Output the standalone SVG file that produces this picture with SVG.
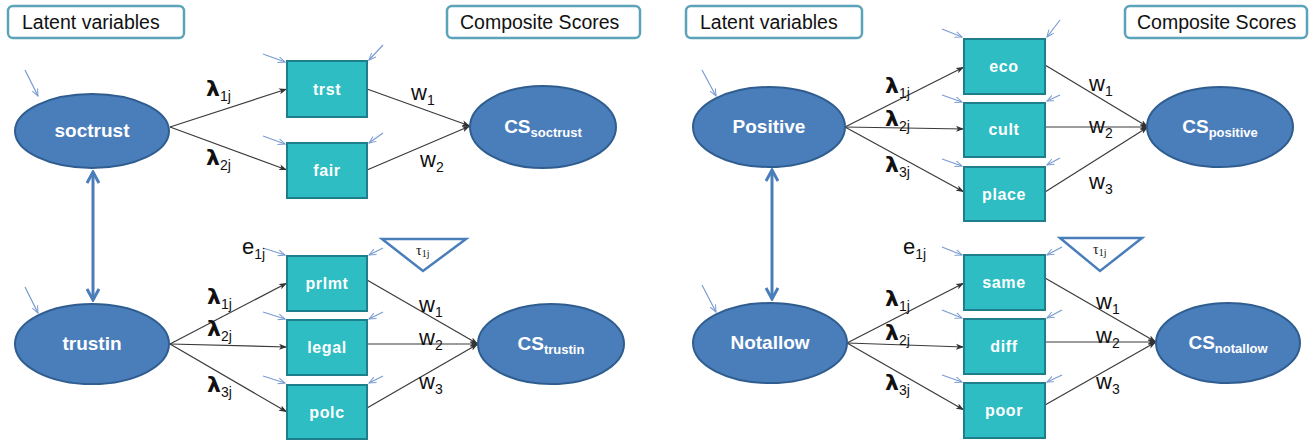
<svg xmlns="http://www.w3.org/2000/svg" width="1312" height="440" viewBox="0 0 1312 440">
<defs>
<marker id="ah" markerWidth="9" markerHeight="7" refX="8" refY="3.5" orient="auto" markerUnits="userSpaceOnUse">
<path d="M0,0.5 L8,3.5 L0,6.5 L2,3.5 z" fill="#333"/>
</marker>
<marker id="eh" markerWidth="8" markerHeight="7" refX="7" refY="3.5" orient="auto" markerUnits="userSpaceOnUse">
<path d="M0,0.5 L7,3.5 L0,6.5" fill="none" stroke="#7A9CD0" stroke-width="1"/>
</marker>
<marker id="dh" markerWidth="14" markerHeight="14" refX="12" refY="7" orient="auto-start-reverse" markerUnits="userSpaceOnUse">
<path d="M1,1 L12,7 L1,13" fill="none" stroke="#4A7EBB" stroke-width="3"/>
</marker>
<style>
.lbl{fill:#fff;stroke:#5BA3B8;stroke-width:2.5}
.lt{font-family:"Liberation Sans",Arial,sans-serif;font-size:19.5px;fill:#111}
.ell{fill:#4A7EBB;stroke:#2F5D8F;stroke-width:2}
.et{font-family:"Liberation Sans",Arial,sans-serif;font-size:19px;font-weight:bold;fill:#fff;text-anchor:middle}
.sub{font-size:13px}
.box{fill:#2DBDC2;stroke:#1E7E8C;stroke-width:2}
.bt{font-family:"Liberation Sans",Arial,sans-serif;font-size:16px;font-weight:bold;letter-spacing:0.6px;fill:#fff;text-anchor:middle}
.ln{stroke:#3A3A3A;stroke-width:1.2;fill:none;marker-end:url(#ah)}
.er{stroke:#7A9CD0;stroke-width:1.2;fill:none;marker-end:url(#eh)}
.dbl{stroke:#4A7EBB;stroke-width:3;fill:none;marker-start:url(#dh);marker-end:url(#dh)}
.gk{font-family:"DejaVu Sans","Liberation Sans",sans-serif;font-size:22px;font-weight:bold;fill:#111}
.gs{font-family:"Liberation Sans",Arial,sans-serif;font-size:14px;font-weight:normal;fill:#111}
.w{font-family:"Liberation Sans",Arial,sans-serif;font-size:22px;fill:#111}
.e{font-family:"Liberation Sans",Arial,sans-serif;font-size:22px;fill:#111}
.tri{fill:#fff;stroke:#4A7EBB;stroke-width:2.5}
.tau{font-family:"Liberation Serif","Times New Roman",serif;font-size:14px;fill:#111}
</style>
</defs>

<!-- header labels -->
<g id="hdr-latent-left"><rect class="lbl" x="8" y="6" width="176" height="32" rx="5"/><text class="lt" x="22" y="29">Latent variables</text></g>
<g id="hdr-cs-left"><rect class="lbl" x="447" y="6" width="193" height="32" rx="5"/><text class="lt" x="460" y="29">Composite Scores</text></g>
<g id="hdr-latent-right"><rect class="lbl" x="686" y="6" width="176" height="32" rx="5"/><text class="lt" x="700" y="29">Latent variables</text></g>
<g id="hdr-cs-right"><rect class="lbl" x="1125" y="6" width="182" height="32" rx="5"/><text class="lt" x="1137" y="29">Composite Scores</text></g>

<!-- connectors -->
<g id="connectors">
<line class="ln" x1="170" y1="127" x2="287" y2="89"/>
<line class="ln" x1="170" y1="127" x2="287" y2="170"/>
<line class="ln" x1="367" y1="89" x2="470" y2="126"/>
<line class="ln" x1="367" y1="170" x2="470" y2="126"/>
<line class="er" x1="25" y1="70" x2="38" y2="96"/>
<line class="er" x1="263" y1="54" x2="285" y2="62"/>
<line class="er" x1="383" y1="45" x2="369" y2="60"/>
<line class="er" x1="263" y1="136" x2="285" y2="144"/>
<line class="er" x1="383" y1="133" x2="369" y2="143"/>
<line class="dbl" x1="93" y1="172" x2="93" y2="300"/>
<line class="ln" x1="170" y1="344" x2="287" y2="283"/>
<line class="ln" x1="170" y1="344" x2="287" y2="347"/>
<line class="ln" x1="170" y1="344" x2="287" y2="412"/>
<line class="ln" x1="367" y1="280" x2="478" y2="344"/>
<line class="ln" x1="367" y1="344" x2="478" y2="344"/>
<line class="ln" x1="367" y1="408" x2="478" y2="344"/>
<line class="er" x1="25" y1="287" x2="38" y2="313"/>
<line class="er" x1="263" y1="248" x2="285" y2="255"/>
<line class="er" x1="263" y1="312" x2="285" y2="319"/>
<line class="er" x1="263" y1="376" x2="285" y2="383"/>
<line class="er" x1="383" y1="248" x2="369" y2="255"/>
<line class="er" x1="383" y1="312" x2="369" y2="319"/>
<line class="er" x1="383" y1="376" x2="369" y2="383"/>
<line class="ln" x1="845" y1="127" x2="964" y2="67"/>
<line class="ln" x1="845" y1="127" x2="964" y2="129"/>
<line class="ln" x1="845" y1="127" x2="964" y2="192"/>
<line class="ln" x1="1045" y1="65" x2="1148" y2="127"/>
<line class="ln" x1="1045" y1="127" x2="1148" y2="127"/>
<line class="ln" x1="1045" y1="192" x2="1148" y2="127"/>
<line class="er" x1="702" y1="70" x2="716" y2="96"/>
<line class="er" x1="942" y1="29" x2="962" y2="37"/>
<line class="er" x1="942" y1="95" x2="962" y2="102"/>
<line class="er" x1="942" y1="159" x2="962" y2="166"/>
<line class="er" x1="1060" y1="20" x2="1047" y2="37"/>
<line class="er" x1="1060" y1="95" x2="1047" y2="101"/>
<line class="er" x1="1060" y1="158" x2="1047" y2="165"/>
<line class="dbl" x1="772" y1="170" x2="772" y2="299"/>
<line class="ln" x1="847" y1="343" x2="964" y2="283"/>
<line class="ln" x1="847" y1="343" x2="964" y2="347"/>
<line class="ln" x1="847" y1="343" x2="964" y2="410"/>
<line class="ln" x1="1045" y1="278" x2="1156" y2="342"/>
<line class="ln" x1="1045" y1="342" x2="1156" y2="342"/>
<line class="ln" x1="1045" y1="405" x2="1156" y2="342"/>
<line class="er" x1="702" y1="285" x2="716" y2="312"/>
<line class="er" x1="942" y1="247" x2="962" y2="255"/>
<line class="er" x1="942" y1="310" x2="962" y2="318"/>
<line class="er" x1="942" y1="375" x2="962" y2="382"/>
<line class="er" x1="1062" y1="247" x2="1047" y2="255"/>
<line class="er" x1="1062" y1="310" x2="1047" y2="318"/>
<line class="er" x1="1062" y1="375" x2="1047" y2="382"/>
</g>

<!-- coefficient labels -->
<g id="coef-labels">
<text class="gk" x="206" y="96">λ<tspan class="gs" dy="5">1j</tspan></text>
<text class="gk" x="206" y="165">λ<tspan class="gs" dy="5">2j</tspan></text>
<text class="w" x="411" y="100">w<tspan class="gs" dy="5">1</tspan></text>
<text class="w" x="420" y="167">w<tspan class="gs" dy="5">2</tspan></text>

<text class="e" x="242" y="254">e<tspan class="gs" dy="5">1j</tspan></text>
<text class="gk" x="207" y="304">λ<tspan class="gs" dy="5">1j</tspan></text>
<text class="gk" x="207" y="336">λ<tspan class="gs" dy="5">2j</tspan></text>
<text class="gk" x="207" y="392">λ<tspan class="gs" dy="5">3j</tspan></text>
<text class="w" x="419" y="312">w<tspan class="gs" dy="5">1</tspan></text>
<text class="w" x="419" y="345">w<tspan class="gs" dy="5">2</tspan></text>
<text class="w" x="419" y="389">w<tspan class="gs" dy="5">3</tspan></text>

<text class="gk" x="885" y="93">λ<tspan class="gs" dy="5">1j</tspan></text>
<text class="gk" x="885" y="126">λ<tspan class="gs" dy="5">2j</tspan></text>
<text class="gk" x="885" y="172">λ<tspan class="gs" dy="5">3j</tspan></text>
<text class="w" x="1089" y="91">w<tspan class="gs" dy="5">1</tspan></text>
<text class="w" x="1089" y="133">w<tspan class="gs" dy="5">2</tspan></text>
<text class="w" x="1089" y="189">w<tspan class="gs" dy="5">3</tspan></text>

<text class="e" x="903" y="254">e<tspan class="gs" dy="5">1j</tspan></text>
<text class="gk" x="885" y="306">λ<tspan class="gs" dy="5">1j</tspan></text>
<text class="gk" x="885" y="340">λ<tspan class="gs" dy="5">2j</tspan></text>
<text class="gk" x="885" y="390">λ<tspan class="gs" dy="5">3j</tspan></text>
<text class="w" x="1096" y="309">w<tspan class="gs" dy="5">1</tspan></text>
<text class="w" x="1096" y="343">w<tspan class="gs" dy="5">2</tspan></text>
<text class="w" x="1096" y="389">w<tspan class="gs" dy="5">3</tspan></text>
</g>

<!-- nodes left -->
<g id="soctrust"><ellipse class="ell" cx="92" cy="131" rx="77" ry="37"/><text class="et" x="92" y="137">soctrust</text></g>
<g id="trst"><rect class="box" x="287" y="61" width="80" height="56"/><text class="bt" x="327" y="95">trst</text></g>
<g id="fair"><rect class="box" x="287" y="143" width="80" height="55"/><text class="bt" x="327" y="176">fair</text></g>
<g id="cs-soctrust"><ellipse class="ell" cx="543" cy="127" rx="73" ry="41"/><text class="et" x="543" y="133">CS<tspan class="sub" dy="4">soctrust</tspan></text></g>

<g id="trustin"><ellipse class="ell" cx="92" cy="344" rx="77" ry="40"/><text class="et" x="92" y="350">trustin</text></g>
<g id="prlmt"><rect class="box" x="287" y="256" width="80" height="55"/><text class="bt" x="327" y="289">prlmt</text></g>
<g id="legal"><rect class="box" x="287" y="320" width="80" height="55"/><text class="bt" x="327" y="353">legal</text></g>
<g id="polc"><rect class="box" x="287" y="385" width="80" height="54"/><text class="bt" x="327" y="418">polc</text></g>
<g id="tau-left"><polygon class="tri" points="382,239 466,239 423,271"/><text class="tau" x="416" y="255">τ<tspan style="font-size:10px" dy="2">1j</tspan></text></g>
<g id="cs-trustin"><ellipse class="ell" cx="551" cy="344" rx="73" ry="40"/><text class="et" x="551" y="350">CS<tspan class="sub" dy="4">trustin</tspan></text></g>

<!-- nodes right -->
<g id="positive"><ellipse class="ell" cx="769" cy="127" rx="76" ry="40"/><text class="et" x="769" y="133">Positive</text></g>
<g id="eco"><rect class="box" x="964" y="39" width="81" height="55"/><text class="bt" x="1004" y="72">eco</text></g>
<g id="cult"><rect class="box" x="964" y="103" width="81" height="54"/><text class="bt" x="1004" y="135">cult</text></g>
<g id="place"><rect class="box" x="964" y="167" width="81" height="54"/><text class="bt" x="1004" y="200">place</text></g>
<g id="cs-positive"><ellipse class="ell" cx="1220" cy="127" rx="73" ry="40"/><text class="et" x="1220" y="133">CS<tspan class="sub" dy="4">positive</tspan></text></g>

<g id="notallow"><ellipse class="ell" cx="770" cy="343" rx="77" ry="40"/><text class="et" x="770" y="349">Notallow</text></g>
<g id="same"><rect class="box" x="964" y="255" width="81" height="55"/><text class="bt" x="1004" y="288">same</text></g>
<g id="diff"><rect class="box" x="964" y="319" width="81" height="55"/><text class="bt" x="1004" y="352">diff</text></g>
<g id="poor"><rect class="box" x="964" y="383" width="81" height="55"/><text class="bt" x="1004" y="416">poor</text></g>
<g id="tau-right"><polygon class="tri" points="1060,238 1142,238 1100,271"/><text class="tau" x="1093" y="254">τ<tspan style="font-size:10px" dy="2">1j</tspan></text></g>
<g id="cs-notallow"><ellipse class="ell" cx="1228" cy="343" rx="72" ry="40"/><text class="et" x="1228" y="349">CS<tspan class="sub" dy="4">notallow</tspan></text></g>
</svg>
